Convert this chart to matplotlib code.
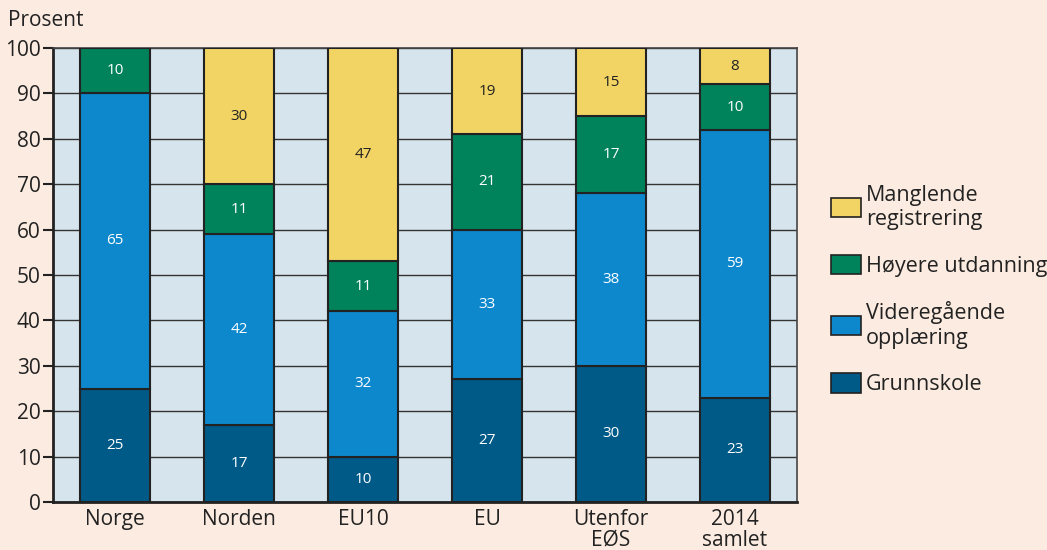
import numpy as np
import matplotlib.pyplot as plt
from matplotlib.patches import Patch

plt.rcParams['font.family'] = ['Open Sans', 'DejaVu Sans']

categories = ["Norge", "Norden", "EU10", "EU", "Utenfor\nEØS", "2014\nsamlet"]
grunnskole = [25, 17, 10, 27, 30, 23]
videregaende = [65, 42, 32, 33, 38, 59]
hoyere = [10, 11, 11, 21, 17, 10]
manglende = [0, 30, 47, 19, 15, 8]

series = [
    ("Grunnskole", grunnskole, "#005A87", "white"),
    ("Videregående\nopplæring", videregaende, "#0E88CC", "white"),
    ("Høyere utdanning", hoyere, "#00825A", "white"),
    ("Manglende\nregistrering", manglende, "#F2D464", "#222222"),
]

bg = "#FBEBE0"
fig = plt.figure(figsize=(10.47, 5.5), dpi=100, facecolor=bg)
ax = fig.add_axes([53 / 1047, 48 / 550, 744 / 1047, 454 / 550])
ax.set_facecolor("#D6E4ED")

x = np.arange(len(categories))
bottom = np.zeros(len(categories))
for name, vals, col, tcol in series:
    vals = np.array(vals, dtype=float)
    ax.bar(x, vals, width=0.565, bottom=bottom, color=col,
           edgecolor="#222222", linewidth=1.5, zorder=3)
    for xi, b, v in zip(x, bottom, vals):
        if v > 0:
            ax.text(xi, b + v / 2, f"{int(v)}", ha="center", va="center",
                    fontsize=11, color=tcol, zorder=4)
    bottom += vals

ax.set_xlim(-0.5, 5.5)
ax.set_ylim(0, 100)
ax.set_yticks(range(0, 101, 10))
ax.yaxis.grid(True, color="#333333", linewidth=1.0, zorder=1)
ax.set_axisbelow(True)
ax.set_xticks(x)
ax.set_xticklabels(categories, fontsize=15, color="#222222", linespacing=1.0)
ax.tick_params(axis="x", length=0, pad=5)
ax.tick_params(axis="y", length=7, width=1.5, color="#222222",
               labelsize=15, labelcolor="#222222", pad=2)
for s in ax.spines.values():
    s.set_color("#444444")
    s.set_linewidth(1.2)
ax.spines["left"].set_linewidth(2)
ax.spines["bottom"].set_linewidth(2)
ax.spines["left"].set_color("#222222")
ax.spines["bottom"].set_color("#222222")

fig.text(8 / 1047, 1 - 20 / 550, "Prosent", fontsize=15, color="#222222",
         ha="left", va="center")

handles = [Patch(facecolor=col, edgecolor="#222222", linewidth=1.2, label=name)
           for name, vals, col, tcol in series[::-1]]
fig.legend(handles=handles, loc="upper left",
           bbox_to_anchor=(822 / 1047, 1 - 176 / 550), frameon=False,
           fontsize=15.5, handlelength=1.4, handleheight=1.0, handletextpad=0.25,
           labelspacing=1.15, borderaxespad=0, labelcolor="#222222")

fig.savefig("out.png", dpi=100, facecolor=bg)
